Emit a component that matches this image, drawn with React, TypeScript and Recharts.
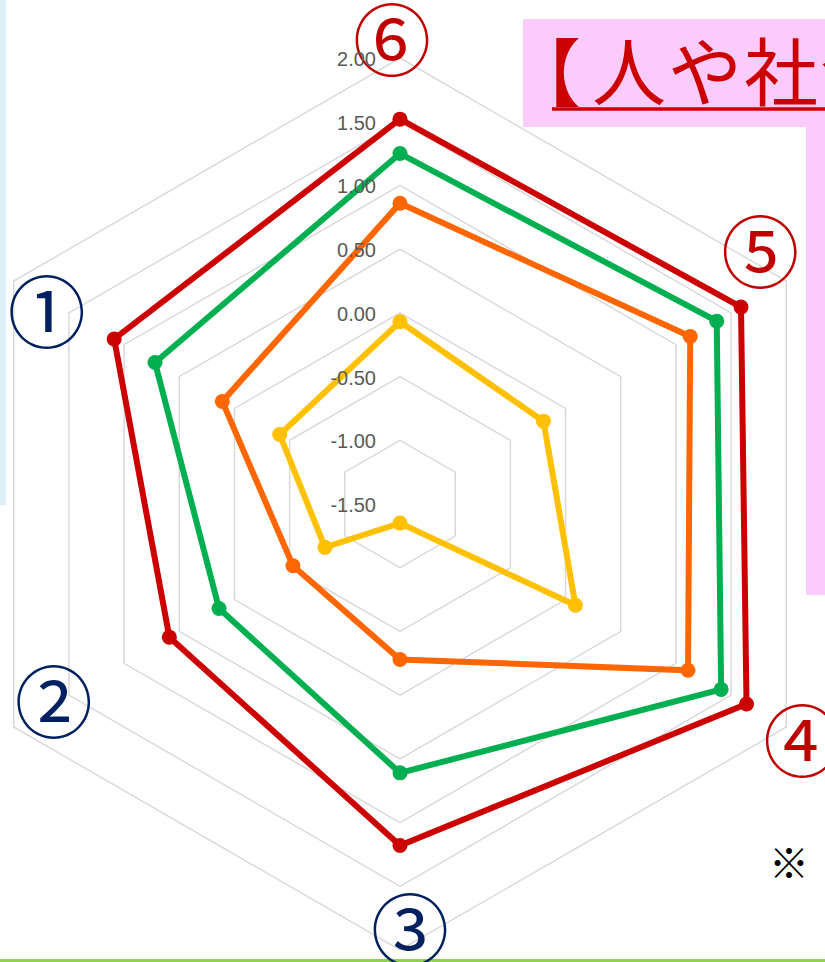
import React from 'react';
import { RadarChart, Radar, PolarGrid, PolarAngleAxis, PolarRadiusAxis } from 'recharts';

const axes = ['⑥', '⑤', '④', '③', '②', '①'];
const redValues = [1.52, 1.59, 1.64, 1.18, 0.59, 1.09];
const greenValues = [1.25, 1.37, 1.41, 0.61, 0.14, 0.72];
const orangeValues = [0.86, 1.13, 1.11, -0.28, -0.53, 0.11];
const yellowValues = [-0.07, -0.2, 0.09, -1.35, -0.82, -0.41];
const radiusTicks = [-1.5, -1, -0.5, 0, 0.5, 1, 1.5, 2];
const titleBracket = '【';
const titleText = '人や社会';
const noteText = '※';

const data = axes.map((a, i) => ({
  axis: a,
  red: redValues[i],
  green: greenValues[i],
  orange: orangeValues[i],
  yellow: yellowValues[i],
}));

const labelStyle: Record<string, { dx: number; dy: number; color: string }> = {
  '①': { dx: 40, dy: 31, color: '#002060' },
  '②': { dx: 47, dy: -33, color: '#002060' },
  '③': { dx: 10, dy: -32, color: '#002060' },
  '④': { dx: 9, dy: 6, color: '#C00000' },
  '⑤': { dx: -33, dy: -29, color: '#C00000' },
  '⑥': { dx: -8, dy: -14, color: '#C00000' },
};

const AngleTick = (props: any) => {
  const { x, y, payload } = props;
  const st = labelStyle[payload.value] || { dx: 0, dy: 0, color: '#000' };
  return (
    <text
      x={x + st.dx}
      y={y + st.dy}
      textAnchor="middle"
      dominantBaseline="central"
      fontFamily="'Noto Sans CJK JP', 'Noto Sans'"
      fontSize={78}
      fill={st.color}
    >
      {payload.value}
    </text>
  );
};

const RadiusTick = (props: any) => {
  const { x, y, payload } = props;
  return (
    <text
      x={x - 24}
      y={y + 1}
      textAnchor="end"
      dominantBaseline="central"
      fontFamily="'Liberation Sans', Arial, sans-serif"
      fontSize={20}
      fill="#595959"
    >
      {Number(payload.value).toFixed(2)}
    </text>
  );
};

const series = [
  { key: 'red', color: '#CC0000' },
  { key: 'green', color: '#00B050' },
  { key: 'orange', color: '#FF6600' },
  { key: 'yellow', color: '#FFC000' },
];

const makeDot = (color: string) => (p: any) => (
  <circle key={`${color}-${p.index}`} cx={p.cx} cy={p.cy} r={7.5} fill={color} stroke="none" />
);

export default function App() {
  return (
    <div
      style={{
        position: 'absolute',
        left: 0,
        top: 0,
        width: 825,
        height: 962,
        overflow: 'hidden',
        background: '#ffffff',
      }}
    >
      <div style={{ position: 'absolute', left: 0, top: 0, width: 6, height: 505, background: '#DDEFF6' }} />
      <div style={{ position: 'absolute', left: 523, top: 19, width: 302, height: 108, background: '#FBCBFB' }} />
      <div style={{ position: 'absolute', left: 806, top: 127, width: 19, height: 468, background: '#FBCBFB' }} />
      <div style={{ position: 'absolute', left: 0, top: 959, width: 825, height: 3, background: '#92D050' }} />
      <div style={{ position: 'absolute', left: 0, top: 0 }}>
        <RadarChart
          width={825}
          height={962}
          data={data}
          cx={400}
          cy={504}
          outerRadius={446}
          startAngle={90}
          endAngle={-270}
          margin={{ top: 0, right: 0, bottom: 0, left: 0 }}
        >
          <PolarGrid gridType="polygon" radialLines={false} stroke="#D9D9D9" strokeWidth={1.5} />
          <PolarAngleAxis dataKey="axis" tick={AngleTick} tickLine={false} axisLine={false} />
          <PolarRadiusAxis
            angle={90}
            type="number"
            domain={[-1.5, 2]}
            ticks={radiusTicks}
            tick={RadiusTick}
            tickLine={false}
            axisLine={false}
            allowDataOverflow
          />
          {series.map((s) => (
            <Radar
              key={s.key}
              dataKey={s.key}
              stroke={s.color}
              strokeWidth={6}
              fill="none"
              fillOpacity={0}
              dot={makeDot(s.color)}
              isAnimationActive={false}
            />
          ))}
        </RadarChart>
      </div>
      <svg
        width={825}
        height={962}
        style={{ position: 'absolute', left: 0, top: 0, pointerEvents: 'none' }}
      >
        <text
          x={507}
          y={100}
          fontFamily="'Noto Sans CJK JP'"
          fontSize={74}
          letterSpacing={2}
          fill="#CC0000"
        >
          <tspan>{titleBracket}</tspan>
          <tspan dx={9}>{titleText}</tspan>
        </text>
        <line x1={552} y1={109} x2={825} y2={109} stroke="#CC0000" strokeWidth={3.5} />
        <text
          x={769}
          y={878}
          fontFamily="'Noto Sans CJK JP'"
          fontSize={40}
          fontWeight={900}
          fill="#000000"
        >
          {noteText}
        </text>
      </svg>
    </div>
  );
}
